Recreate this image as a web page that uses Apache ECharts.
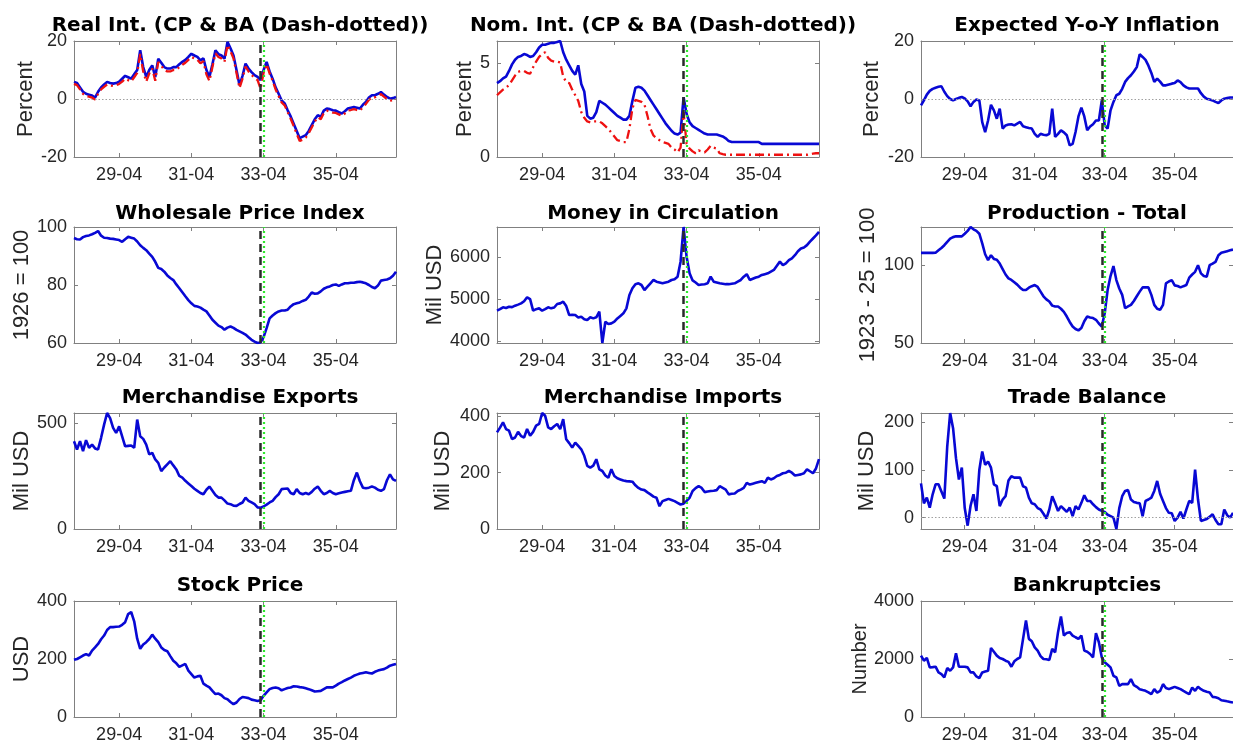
<!DOCTYPE html>
<html><head><meta charset="utf-8">
<script src="https://cdn.jsdelivr.net/npm/echarts@6/dist/echarts.min.js"></script>
<style>html,body{margin:0;padding:0;background:#fff}#c{width:1233px;height:744px}</style>
</head><body><div id="c"></div><script>
const months = [
'28-01','28-02','28-03','28-04','28-05','28-06','28-07','28-08','28-09','28-10','28-11','28-12',
'29-01','29-02','29-03','29-04','29-05','29-06','29-07','29-08','29-09','29-10','29-11','29-12',
'30-01','30-02','30-03','30-04','30-05','30-06','30-07','30-08','30-09','30-10','30-11','30-12',
'31-01','31-02','31-03','31-04','31-05','31-06','31-07','31-08','31-09','31-10','31-11','31-12',
'32-01','32-02','32-03','32-04','32-05','32-06','32-07','32-08','32-09','32-10','32-11','32-12',
'33-01','33-02','33-03','33-04','33-05','33-06','33-07','33-08','33-09','33-10','33-11','33-12',
'34-01','34-02','34-03','34-04','34-05','34-06','34-07','34-08','34-09','34-10','34-11','34-12',
'35-01','35-02','35-03','35-04','35-05','35-06','35-07','35-08','35-09','35-10','35-11','35-12',
'36-01','36-02','36-03','36-04','36-05','36-06','36-07','36-08','36-09','36-10','36-11','36-12'];
const xTickLabels = ['29-04','31-04','33-04','35-04'];
const eventMonths = ['33-03','33-04'];

const realIntCP = [5.9,5.5,4.0,2.5,1.8,1.5,1.2,0.5,2.5,4.0,5.0,5.9,
5.5,5.3,5.5,6.0,7.0,8.0,7.5,7.0,8.5,10.0,16.8,11.0,
7.6,10.0,11.6,7.6,13.9,12.5,11.0,10.5,10.5,11.0,11.0,12.0,
12.8,13.5,14.5,15.6,15.0,14.5,13.3,14.0,10.0,7.6,12.0,16.8,
15.5,15.0,13.9,19.7,17.5,15.0,10.0,4.7,8.0,12.2,10.5,9.3,
8.2,7.6,6.5,10.0,12.8,9.5,7.0,4.0,1.8,-0.5,-1.5,-3.9,
-6.0,-8.5,-11.0,-13.5,-13.0,-12.5,-11.0,-9.0,-7.0,-5.6,-6.2,-4.0,
-3.3,-3.5,-3.9,-4.0,-4.5,-5.0,-4.2,-3.3,-3.0,-2.8,-3.0,-3.3,
-2.0,-1.0,0.5,1.3,1.3,1.8,2.4,1.5,0.7,0.1,0.3,0.7];
const realIntBA = [5.2,4.8,3.3,1.8,1.0,0.8,0.5,-0.2,1.8,3.3,4.2,5.0,
4.7,4.5,4.7,5.2,6.0,7.0,6.5,6.0,7.5,9.0,15.5,9.5,
6.0,8.8,10.5,6.3,12.8,11.5,10.0,9.5,9.5,10.0,10.0,11.0,
11.8,12.5,13.5,14.5,14.0,13.5,12.3,13.0,8.5,6.2,11.0,15.8,
14.5,14.0,12.8,18.6,16.5,14.0,9.0,3.8,7.0,11.2,9.5,8.3,
7.3,6.5,3.5,9.0,12.0,8.8,6.3,3.3,1.0,-1.2,-2.2,-4.5,
-6.8,-9.3,-12.0,-14.5,-14.0,-13.3,-11.8,-9.8,-7.8,-6.3,-7.0,-4.8,
-4.0,-4.3,-4.7,-4.8,-5.3,-5.8,-5.0,-4.0,-3.8,-3.5,-3.8,-4.0,
-2.8,-1.7,-0.3,0.6,0.6,1.1,1.7,0.8,0.0,-0.6,-0.4,0.0];
const nomIntCP = [3.95,4.05,4.2,4.3,4.6,4.95,5.2,5.35,5.4,5.5,5.45,5.35,
5.4,5.6,5.85,6.0,6.0,6.05,6.1,6.1,6.15,6.2,5.6,5.2,
4.9,4.6,4.4,4.9,3.9,3.5,2.2,2.05,2.1,2.4,3.0,2.9,
2.8,2.65,2.5,2.35,2.2,2.1,2.0,2.0,2.2,3.0,3.7,3.75,
3.7,3.55,3.3,3.05,2.8,2.55,2.3,2.05,1.8,1.6,1.4,1.25,
1.2,1.3,3.2,2.3,1.85,1.65,1.55,1.45,1.35,1.25,1.2,1.2,
1.2,1.2,1.15,1.1,1.0,0.85,0.8,0.8,0.8,0.8,0.8,0.8,
0.8,0.8,0.8,0.8,0.7,0.7,0.7,0.7,0.7,0.7,0.7,0.7,
0.7,0.7,0.7,0.7,0.7,0.7,0.7,0.7,0.7,0.7,0.7,0.7];
const nomIntBA = [3.3,3.45,3.6,3.7,3.85,4.1,4.35,4.55,4.6,4.6,4.5,4.45,
4.8,5.1,5.35,5.5,5.6,5.3,5.15,5.1,5.1,5.05,4.3,4.0,
3.95,3.6,3.3,3.0,2.4,2.1,1.9,1.85,1.9,1.9,1.9,1.8,
1.65,1.5,1.3,1.1,0.9,0.85,0.8,0.8,1.5,2.6,3.05,3.0,
2.95,2.8,2.2,1.5,1.15,1.0,0.9,0.8,0.75,0.7,0.5,0.4,
0.25,0.5,2.4,0.7,0.45,0.3,0.2,0.35,0.3,0.25,0.4,0.6,
0.5,0.45,0.2,0.15,0.12,0.12,0.12,0.12,0.12,0.12,0.12,0.12,
0.12,0.12,0.12,0.12,0.12,0.12,0.12,0.12,0.12,0.12,0.12,0.12,
0.12,0.12,0.12,0.12,0.12,0.12,0.12,0.12,0.15,0.18,0.2,0.2];
const expInfl = [-2.2,-0.5,1.5,2.8,3.5,3.9,4.2,4.4,2.5,1.0,0.0,-0.5,
0.0,0.4,0.7,0.2,-0.8,-2.5,-1.0,-0.2,-0.5,-8.0,-11.4,-7.4,
-2.0,-3.9,-6.8,-3.3,-10.2,-9.1,-8.8,-8.7,-9.1,-8.5,-7.9,-9.4,
-9.7,-10.0,-10.2,-12.0,-13.1,-12.0,-12.3,-12.5,-12.0,-3.3,-13.1,-12.0,
-10.8,-11.5,-12.5,-16.0,-15.5,-11.4,-6.0,-3.0,-6.0,-10.8,-9.5,-8.7,
-7.4,-7.4,-0.5,-9.1,-10.2,-3.9,-1.0,1.3,1.8,3.5,5.9,7.2,
8.2,9.5,11.0,15.4,14.5,13.5,11.5,9.0,5.9,7.0,6.0,4.7,
4.7,5.0,5.3,5.5,6.4,5.8,4.7,4.0,3.6,3.6,3.6,3.6,
2.0,0.8,0.1,-0.2,-0.5,-1.0,-1.4,-0.5,0.1,0.3,0.5,0.5];
const wpi = [96.2,95.8,95.7,96.5,96.9,97.1,97.5,98.0,98.6,97.0,96.3,96.2,
96.0,95.9,95.7,95.5,94.9,95.8,96.6,96.3,96.0,95.0,93.7,92.8,
92.0,90.8,89.7,88.0,85.9,85.5,84.6,83.3,82.4,81.7,80.2,78.9,
77.5,76.1,74.8,73.7,72.8,72.6,72.2,71.5,70.9,69.5,68.0,67.0,
66.0,65.5,64.6,65.3,65.7,65.2,64.5,64.0,63.5,62.9,62.0,61.1,
60.5,60.0,60.2,62.0,65.1,68.5,69.5,70.3,70.9,71.2,71.2,71.5,
72.6,73.4,73.7,74.0,74.5,74.9,76.0,77.4,77.0,77.1,77.8,78.7,
79.2,79.5,80.0,80.2,79.7,80.2,80.6,80.6,80.8,80.8,81.0,81.1,
80.9,80.6,80.0,79.3,78.9,79.8,81.5,81.7,81.9,82.3,83.2,84.6];
const money = [4725,4760,4805,4790,4820,4810,4845,4870,4900,4950,5045,5000,
4725,4760,4780,4725,4760,4805,4780,4800,4885,4900,4940,4835,
4620,4625,4620,4560,4580,4520,4500,4565,4540,4565,4700,3950,
4460,4405,4420,4460,4540,4600,4660,4780,5100,5260,5360,5380,
5340,5220,5300,5380,5460,5420,5400,5380,5400,5420,5460,5480,
5540,5900,6730,6015,5620,5450,5400,5340,5350,5360,5380,5540,
5420,5400,5380,5370,5360,5360,5370,5380,5420,5460,5540,5600,
5460,5490,5520,5540,5580,5600,5620,5660,5700,5800,5900,5815,
5860,5935,5980,6055,6150,6215,6240,6295,6380,6455,6530,6615];
const production = [107.9,107.9,107.9,107.9,107.9,108.0,109.5,111.0,112.8,115.0,117.0,118.0,
118.5,118.5,118.5,120.2,122.0,124.5,123.0,122.0,120.2,114.0,107.0,103.2,
106.4,104.0,103.5,101.0,97.5,94.0,91.5,90.5,89.0,87.5,85.5,84.0,
84.0,85.5,86.5,87.2,86.0,83.0,80.0,78.0,76.6,74.0,73.4,73.4,
72.0,70.0,67.0,63.5,60.6,59.0,58.1,59.6,64.0,67.0,66.4,66.0,
64.9,62.5,60.6,69.1,84.0,93.0,99.4,90.4,85.0,80.9,72.3,73.5,
74.5,77.0,80.0,83.0,85.7,85.7,85.7,80.9,74.5,72.0,71.3,74.5,
88.3,89.5,90.4,87.0,86.6,85.7,86.5,87.2,92.0,94.0,95.7,100.0,
94.7,93.0,92.6,100.0,101.0,102.1,106.4,108.0,108.5,109.0,109.5,110.0];
const exportsUSD = [414,375,414,367,419,383,398,380,375,430,492,547,
523,477,453,484,437,390,392,394,383,516,437,425,
398,352,359,328,312,273,290,305,320,300,281,250,
242,227,215,203,190,180,170,164,185,200,180,160,
148,148,135,120,117,110,109,118,125,148,133,125,
117,102,100,106,115,125,133,150,164,188,190,191,
170,164,188,170,164,170,164,175,190,200,180,164,
170,180,170,164,168,172,175,178,180,230,266,225,
195,192,195,200,195,185,180,188,230,258,234,227];
const importsUSD = [343,360,379,355,349,319,325,345,330,325,355,331,
345,367,373,412,402,361,355,365,373,355,390,319,
305,289,307,295,283,260,224,218,225,248,212,206,
190,182,212,188,180,176,172,170,169,168,155,146,
140,138,130,123,115,111,81,99,103,107,103,99,
93,87,90,100,111,135,145,152,146,131,133,135,
136,138,152,146,140,123,125,126,135,140,146,164,
158,161,164,167,170,164,182,176,180,188,192,198,
200,206,200,190,192,194,198,212,205,198,215,248];
const tradeBalance = [72,30,42,21,49,70,70,55,40,150,220,188,
125,80,105,20,-17,25,49,14,100,139,111,118,
105,70,66,24,38,45,78,87,84,84,84,66,
63,42,30,28,20,17,8,-2,17,45,30,14,
24,18,12,21,3,24,17,31,47,35,35,28,
22,17,14,12,6,3,0,-24,20,45,56,58,
38,33,31,30,3,35,38,42,56,77,50,35,
20,10,9,-7,0,12,-2,17,35,31,101,38,
-7,-5,-3,2,7,-5,-14,-14,17,5,0,10];
const stockPrice = [197,200,206,212,217,212,229,240,252,268,281,300,
310,310,311,312,318,327,355,362,330,270,235,250,
258,269,284,270,258,240,231,227,210,194,185,173,
178,183,160,148,136,140,142,115,108,102,90,79,
81,75,65,61,52,44,50,62,69,67,65,60,
58,55,58,73,85,96,100,102,99,92,96,100,
102,106,105,103,102,99,96,92,88,89,90,96,
102,102,102,108,115,120,126,131,136,142,146,150,
152,154,152,150,156,160,163,165,170,177,180,183];
const bankruptcies = [2116,1942,2035,1711,1720,1734,1538,1480,1364,1688,1595,1711,
2197,1734,1734,1734,1711,1538,1538,1400,1341,1538,1570,1595,
2382,2250,2116,2035,2000,1942,1900,1734,1919,2000,2058,2694,
3329,2694,2613,2400,2289,2100,2000,1990,1965,2347,2231,2925,
3468,2809,2900,2925,2809,2750,2694,2809,2289,2250,2173,2058,
2890,2578,2058,1884,1800,1711,1422,1364,1075,1133,1133,1133,
1306,1100,1040,960,930,902,850,786,960,844,900,1133,
1000,960,1000,1040,1000,960,900,844,786,1017,902,1040,
960,902,870,844,694,680,647,578,560,540,520,500];

const ticksPct = [-20,0,20];
const ticksNom = [0,5];
const ticksWpi = [60,80,100];
const ticksMoney = [4000,5000,6000];
const ticksProd = [50,100];
const ticksExp = [0,500];
const ticksImp = [0,200,400];
const ticksTrade = [0,100,200];
const ticksStock = [0,200,400];
const ticksBank = [0,2000,4000];

const panels = [
 {r:0,c:0,title:'Real Int. (CP & BA (Dash-dotted))',name:'Percent',gap:36,min:-20,max:20,ticks:ticksPct,blue:realIntCP,red:realIntBA,zero:true},
 {r:0,c:1,title:'Nom. Int. (CP & BA (Dash-dotted))',name:'Percent',gap:21,min:0,max:6.2,ticks:ticksNom,blue:nomIntCP,red:nomIntBA},
 {r:0,c:2,title:'Expected Y-o-Y Inflation',name:'Percent',gap:38,min:-20,max:20,ticks:ticksPct,blue:expInfl,zero:true},
 {r:1,c:0,title:'Wholesale Price Index',name:'1926 = 100',gap:40,min:60,max:100,ticks:ticksWpi,blue:wpi},
 {r:1,c:1,title:'Money in Circulation',name:'Mil USD',gap:49,min:3950,max:6730,ticks:ticksMoney,blue:money},
 {r:1,c:2,title:'Production - Total',name:'1923 - 25 = 100',gap:42,min:50,max:124.5,ticks:ticksProd,blue:production},
 {r:2,c:0,title:'Merchandise Exports',name:'Mil USD',gap:41,min:0,max:547,ticks:ticksExp,blue:exportsUSD},
 {r:2,c:1,title:'Merchandise Imports',name:'Mil USD',gap:43,min:0,max:412,ticks:ticksImp,blue:importsUSD},
 {r:2,c:2,title:'Trade Balance',name:'Mil USD',gap:43,min:-24,max:220,ticks:ticksTrade,blue:tradeBalance,zero:true},
 {r:3,c:0,title:'Stock Price',name:'USD',gap:41,min:0,max:400,ticks:ticksStock,blue:stockPrice},
 {r:3,c:2,title:'Bankruptcies',name:'Number',gap:51,min:0,max:4000,ticks:ticksBank,blue:bankruptcies,nameSize:20}
];

const colLeft = [74, 497, 921];
const rowTop = [41, 227, 413, 601];
const gridW = 322, gridH = 116;
const boxColor = '#808080';
const textColor = '#262626';
const blueColor = '#0808d4';
const redColor = '#ee1111';
const labelFont = 'Liberation Sans, Arial, sans-serif';
const isTick = (i, v) => xTickLabels.indexOf(v) >= 0;
const plainNum = v => String(v);

const option = {animation:false, backgroundColor:'#fff', title:[], grid:[], xAxis:[], yAxis:[], series:[]};
panels.forEach((p, k) => {
  const left = colLeft[p.c], top = rowTop[p.r];
  option.grid.push({left:left, top:top, width:gridW, height:gridH, show:false});
  option.title.push({text:p.title, left:left + gridW/2, top:top - (p.r === 1 ? 28 : 30), textAlign:'center',
    textStyle:{fontFamily:'DejaVu Sans, sans-serif', fontWeight:'bold', fontSize:20, color:'#000'}});
  const xBase = {type:'category', gridIndex:k, data:months, boundaryGap:false,
    axisLine:{show:true, onZero:false, lineStyle:{color:boxColor, width:1}},
    axisTick:{show:true, inside:true, length:4, interval:isTick, lineStyle:{color:boxColor}},
    splitLine:{show:false}};
  option.xAxis.push(Object.assign({}, xBase, {position:'bottom',
    axisLabel:{show:true, interval:isTick, color:textColor, fontSize:18, fontFamily:labelFont, margin:9}}));
  option.xAxis.push(Object.assign({}, xBase, {position:'top', axisLabel:{show:false}}));
  const yBase = {type:'value', gridIndex:k, min:p.min, max:p.max,
    axisLine:{show:true, onZero:false, lineStyle:{color:boxColor, width:1}},
    axisTick:{show:true, inside:true, length:4, customValues:p.ticks, lineStyle:{color:boxColor}},
    splitLine:{show:false}};
  option.yAxis.push(Object.assign({}, yBase, {position:'left',
    axisLabel:{show:true, customValues:p.ticks, formatter:plainNum, color:textColor, fontSize:18, fontFamily:labelFont, margin:7},
    name:p.name, nameLocation:'middle', nameGap:p.gap, nameRotate:90,
    nameTextStyle:{color:textColor, fontSize:p.nameSize || 22, fontFamily:labelFont}}));
  option.yAxis.push(Object.assign({}, yBase, {position:'right', axisLabel:{show:false}}));
  const mk = [
    {xAxis:eventMonths[0], lineStyle:{color:'#2a2a2a', width:2.5, type:[8,5]}},
    {xAxis:eventMonths[1], lineStyle:{color:'#2ee82e', width:2.2, type:[2,3]}}
  ];
  if (p.zero) mk.unshift({yAxis:0, lineStyle:{color:'#a0a0a0', width:1, type:[1.5,2]}});
  option.series.push({type:'line', xAxisIndex:2*k, yAxisIndex:2*k, data:[], z:1, silent:true,
    markLine:{silent:true, symbol:['none','none'], label:{show:false}, animation:false, data:mk}});
  option.series.push({type:'line', xAxisIndex:2*k, yAxisIndex:2*k, data:p.blue, showSymbol:false, z:3,
    lineStyle:{color:blueColor, width:2.6}, itemStyle:{color:blueColor}});
  if (p.red) option.series.push({type:'line', xAxisIndex:2*k, yAxisIndex:2*k, data:p.red, showSymbol:false, z:4,
    lineStyle:{color:redColor, width:2.3, type:[9,4,2,4]}, itemStyle:{color:redColor}});
});
const chart = echarts.init(document.getElementById('c'), null, {renderer:'canvas'});
chart.setOption(option);
</script></body></html>
